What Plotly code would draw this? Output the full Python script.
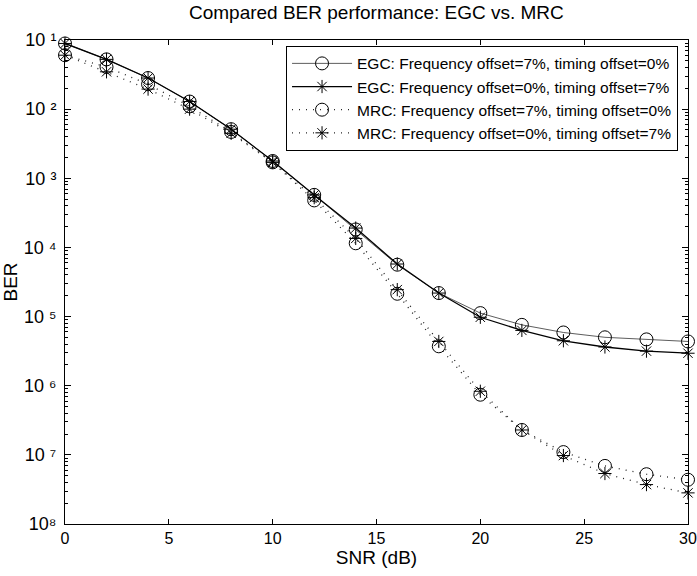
import plotly.graph_objects as go

snr = [0, 2, 4, 6, 8, 10, 12, 14, 16, 18, 20, 22, 24, 26, 28, 30]

# log10(BER)
egc_freq_log = [-1.05, -1.28, -1.55, -1.89, -2.29, -2.75, -3.24, -3.74, -4.25, -4.66, -4.95, -5.12, -5.23, -5.30, -5.33, -5.36]
egc_time_log = [-1.05, -1.28, -1.55, -1.89, -2.29, -2.75, -3.24, -3.72, -4.24, -4.66, -5.01, -5.20, -5.35, -5.44, -5.50, -5.53]
mrc_freq_log = [-1.22, -1.39, -1.64, -1.96, -2.33, -2.77, -3.32, -3.94, -4.67, -5.43, -6.13, -6.64, -6.96, -7.16, -7.28, -7.36]
mrc_time_log = [-1.22, -1.46, -1.71, -2.00, -2.35, -2.77, -3.28, -3.87, -4.61, -5.36, -6.08, -6.64, -7.01, -7.27, -7.43, -7.55]

names = [
    "EGC: Frequency offset=7%, timing offset=0%",
    "EGC: Frequency offset=0%, timing offset=7%",
    "MRC: Frequency offset=7%, timing offset=0%",
    "MRC: Frequency offset=0%, timing offset=7%",
]

ytick_exps = [1, 2, 3, 4, 5, 6, 7, 8]
ytick_text = ["10 ¹", "10 ²", "10 ³", "10 ⁴", "10 ⁵", "10 ⁶", "10 ⁷", "10⁸"]
xtick_vals = [0, 5, 10, 15, 20, 25, 30]

series = [egc_freq_log, egc_time_log, mrc_freq_log, mrc_time_log]
styles = [
    dict(line=dict(color="#333", width=0.8, dash="solid"), sym="circle-open", msize=13),
    dict(line=dict(color="black", width=1.3, dash="solid"), sym="asterisk-open", msize=11),
    dict(line=dict(color="#222", width=1.3, dash="1px,6px"), sym="circle-open", msize=13),
    dict(line=dict(color="#222", width=1.3, dash="1px,6px"), sym="asterisk-open", msize=11),
]

fig = go.Figure()
for nm, s, st in zip(names, series, styles):
    fig.add_trace(go.Scatter(
        x=snr, y=[10 ** v for v in s], name=nm, mode="lines+markers",
        line=st["line"], cliponaxis=False,
        marker=dict(symbol=st["sym"], size=st["msize"], color="black",
                    line=dict(color="black", width=1)),
    ))

minor_vals = [m * 10 ** (-e) for e in ytick_exps[1:] for m in range(2, 10)]

font = "Liberation Sans, Arial, Helvetica, sans-serif"
fig.update_layout(
    width=697, height=576,
    margin=dict(l=65, r=9, t=40, b=52, autoexpand=False),
    paper_bgcolor="white", plot_bgcolor="white",
    font=dict(family=font, size=16, color="black"),
    title=dict(text="Compared BER performance: EGC vs. MRC", x=0.54, xanchor="center",
               y=0.978, yanchor="middle", font=dict(size=19)),
    showlegend=True,
    legend=dict(x=0.984, y=0.988, xanchor="right", yanchor="top",
                bgcolor="white", bordercolor="black", borderwidth=1,
                font=dict(size=15.5), itemwidth=60),
)
fig.update_xaxes(
    range=[0, 30], tickmode="array", tickvals=xtick_vals,
    ticks="inside", ticklen=5, tickcolor="black", automargin=False,
    showline=True, linecolor="black", linewidth=1, mirror="ticks",
    showgrid=False, zeroline=False,
    title=dict(text="SNR (dB)", standoff=4),
)
fig.update_yaxes(
    type="log", range=[-8, -1], automargin=False,
    tickmode="array", tickvals=[10 ** (-e) for e in ytick_exps], ticktext=ytick_text,
    ticks="inside", ticklen=6, tickcolor="black", ticklabelstandoff=4,
    tickfont=dict(size=18),
    minor=dict(tickmode="array", tickvals=minor_vals, ticks="inside", ticklen=3,
               tickcolor="black", showgrid=False),
    showline=True, linecolor="black", linewidth=1, mirror="ticks",
    showgrid=False, zeroline=False,
    title=dict(text="BER", standoff=0),
)

fig.write_html("out.html")
